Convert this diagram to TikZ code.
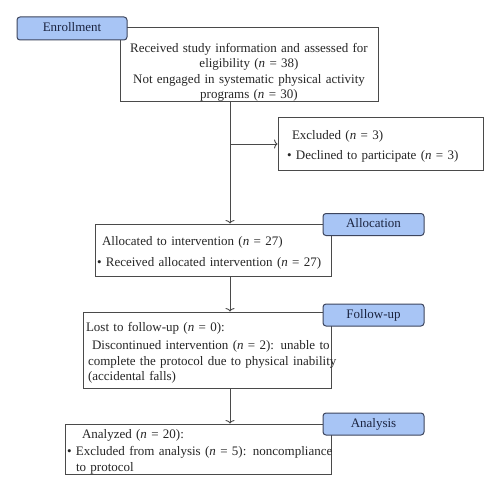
\documentclass[tikz,border=0pt]{standalone}
\usepackage{fontspec}
\setmainfont{Liberation Serif}
\usetikzlibrary{arrows.meta}

\definecolor{stagefill}{HTML}{A8C5F5}
\definecolor{stagetext}{HTML}{1B2440}
\definecolor{lineclr}{HTML}{4A4A4A}

\begin{document}
\begin{tikzpicture}[x=1pt,y=-1pt,->,>={To[length=3.5pt,width=9pt]},line width=0.9pt,
	main box/.style={rectangle,draw=lineclr,fill=white,line width=1pt,inner ysep=0pt,
		text height=18pt,font=\fontsize{13}{15.5}\selectfont,text=black!85},
	stage node/.style={rectangle,rounded corners=3pt,draw=stagetext!85,fill=stagefill,
		line width=1pt,minimum width=101pt,minimum height=22pt,text height=9pt,text depth=2.5pt,
		font=\fontsize{13}{15}\selectfont,text=stagetext}]
	
	\useasboundingbox[fill=white] (0,0) rectangle (500,492);
	
	% boxes
	\node[main box,text width=250pt,inner xsep=4pt,align=center,minimum height=74pt,text height=24pt,text depth=48pt] (assess) at (249,64.5)
	{Received study information and assessed for\\ eligibility (\textit{n} = 38)\\
	 Not engaged in systematic physical activity\\ programs (\textit{n} = 30)};
	\node[main box,text width=187pt,inner xsep=9pt,align=left,minimum height=52pt,text height=14pt] (excluded) at (380.5,144)
	{\hspace{5pt}Excluded (\textit{n} = 3)\\[5pt]
	 \textbullet\ Declined to participate (\textit{n} = 3)};
	\node[main box,text width=232pt,inner xsep=2pt,align=left,minimum height=52pt,text height=15pt] (allocated) at (213,250)
	{\hspace{5pt}Allocated to intervention (\textit{n} = 27)\\[5pt]
	 \textbullet\ Received allocated intervention (\textit{n} = 27)};
	\node[main box,text width=248pt,inner xsep=0pt,align=left,minimum height=76pt,text height=15pt] (followed) at (207,350)
	{\hspace{3pt}Lost to follow-up (\textit{n} = 0):\\[3pt]
	 \hspace*{9pt}\mbox{Discontinued intervention (\textit{n} = 2): unable to}\\
	 \hspace*{5pt}\mbox{complete the protocol due to physical inability}\\
	 \hspace*{5pt}(accidental falls)};
	\node[main box,text width=262pt,inner xsep=2pt,align=left,minimum height=50pt,text height=14pt] (analyzed) at (198,449)
	{\hspace{15pt}Analyzed (\textit{n} = 20):\\[2pt]
	 \mbox{\textbullet\ Excluded from analysis (\textit{n} = 5): noncompliance}\\
	 \hspace*{9pt}to protocol};
	
	% stage labels
	\node[stage node,minimum width=110pt,minimum height=23pt] (enroll) at (72,28.5) {Enrollment};
	\node[stage node] (alloc) at (373.5,224.5) {Allocation};
	\node[stage node] (follow) at (373.5,315) {Follow-up};
	\node[stage node] (analysis) at (373.5,424) {Analysis};
	
	% connectors
	\coordinate (trunk) at (230,0);
	\coordinate (split) at (trunk |- excluded.west);
	\draw[lineclr] (assess.south -| trunk) -- (allocated.north -| trunk);
	\draw[lineclr] (split) -- (excluded.west);
	\draw[lineclr] (allocated.south -| trunk) -- (followed.north -| trunk);
	\draw[lineclr] (followed.south -| trunk) -- (analyzed.north -| trunk);
\end{tikzpicture}
\end{document}
